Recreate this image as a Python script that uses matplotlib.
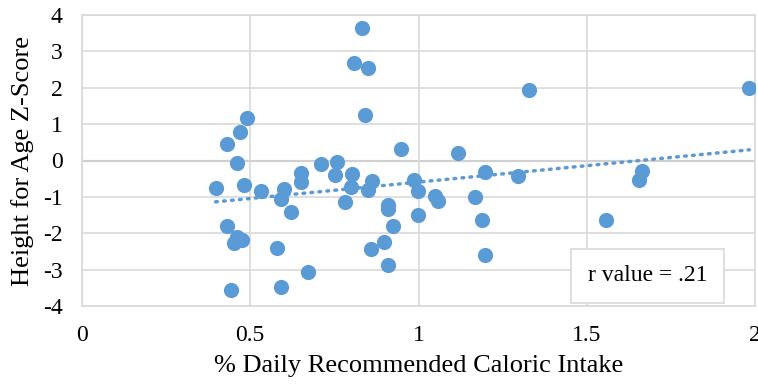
import numpy as np
import matplotlib
matplotlib.use('Agg')
import matplotlib.pyplot as plt

# % of daily recommended caloric intake vs height-for-age z-score
calories = [0.831, 0.809, 0.850, 0.841, 0.490, 0.470, 0.431, 0.462, 0.397, 0.481,
            0.532, 0.600, 0.650, 0.650, 0.711, 0.751, 0.759, 0.803, 0.798, 0.862,
            0.850, 0.592, 0.620, 0.781, 0.431, 0.460, 0.475, 0.452, 0.580, 0.671,
            0.443, 0.591, 0.859, 1.327, 1.983, 0.948, 1.118, 0.988, 0.999, 1.198,
            1.297, 1.664, 1.655, 1.048, 1.059, 1.167, 0.999, 1.188, 1.557, 1.198,
            0.908, 0.910, 0.923, 0.898, 0.908]
zscore = [3.63, 2.68, 2.53, 1.24, 1.17, 0.77, 0.44, -0.06, -0.76, -0.68,
          -0.83, -0.77, -0.34, -0.60, -0.09, -0.41, -0.05, -0.37, -0.72, -0.55,
          -0.80, -1.07, -1.42, -1.15, -1.79, -2.11, -2.19, -2.28, -2.41, -3.06,
          -3.55, -3.49, -2.43, 1.94, 1.99, 0.31, 0.21, -0.53, -0.85, -0.32,
          -0.43, -0.28, -0.53, -0.98, -1.10, -0.99, -1.50, -1.63, -1.63, -2.60,
          -1.21, -1.33, -1.81, -2.25, -2.87]
x_ticks = [0, 0.5, 1, 1.5, 2]
x_labels = ['0', '0.5', '1', '1.5', '2']
y_ticks = [-4, -3, -2, -1, 0, 1, 2, 3, 4]

plt.rcParams['font.family'] = ['Liberation Serif', 'DejaVu Serif']
plt.rcParams['axes.unicode_minus'] = False

fig = plt.figure(figsize=(7.58, 3.88), dpi=100)
ax = fig.add_axes([82 / 758, 1 - 306 / 388, 673 / 758, 291 / 388])

blue = '#5B9BD5'
ax.scatter(calories, zscore, s=120, color=blue, zorder=3, linewidths=0)

# linear trendline (dotted, like Excel)
x = np.array(calories)
m, b = np.polyfit(x, np.array(zscore), 1)
xs = np.array([x.min(), x.max()])
ax.plot(xs, m * xs + b, color=blue, lw=2.5, ls=(0, (0.5, 1.8)),
        dash_capstyle='round', zorder=2)

ax.set_xlim(0, 2)
ax.set_ylim(-4, 4)
ax.set_xticks(x_ticks)
ax.set_xticklabels(x_labels)
ax.set_yticks(y_ticks)
ax.grid(True, color='#D9D9D9', lw=1.2, zorder=0)
ax.axhline(0, color='#A6A6A6', lw=1.5, zorder=1)
for s in ax.spines.values():
    s.set_color('#D9D9D9')
    s.set_linewidth(1.2)
ax.tick_params(length=0, labelsize=17)
ax.tick_params(axis='y', pad=14)
ax.tick_params(axis='x', pad=14)

ax.set_xlabel('% Daily Recommended Caloric Intake', fontsize=19, labelpad=6)
ax.set_ylabel('Height for Age Z-Score', fontsize=19, labelpad=6)

ax.text(1.68, -3.17, 'r value = .21', fontsize=17, ha='center', va='center',
        bbox=dict(boxstyle='square,pad=0.7', fc='white', ec='#D9D9D9', lw=1.2),
        zorder=4)

fig.savefig('out.png', dpi=100)
